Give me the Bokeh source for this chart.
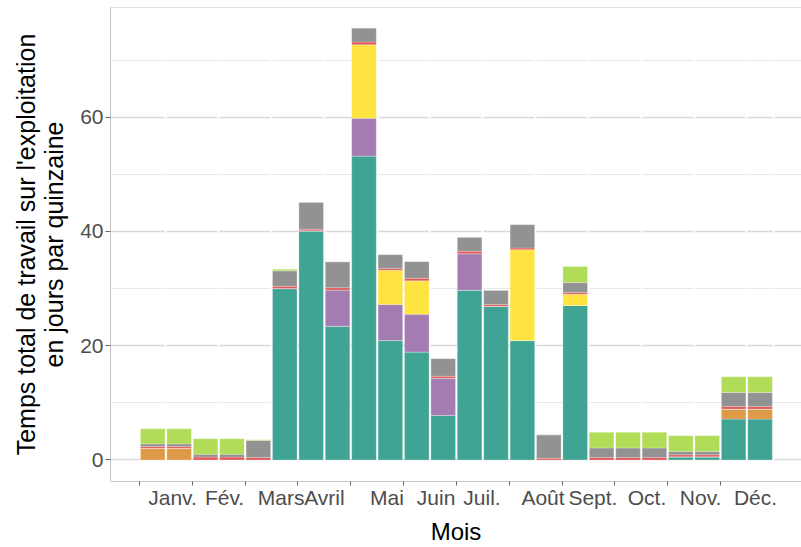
from bokeh.plotting import figure
from bokeh.models import FixedTicker, Grid, Span, LinearAxis, Range1d, ColumnDataSource
from bokeh.embed import file_html
from bokeh.resources import INLINE
import numpy as np

# ---- data -------------------------------------------------------------
mois = ["Janv.", "Fév.", "Mars", "Avril", "Mai", "Juin",
        "Juil.", "Août", "Sept.", "Oct.", "Nov.", "Déc."]
quinzaines = [f"{m} Q{q}" for m in mois for q in (1, 2)]

series = ["serie_1", "serie_2", "serie_3", "serie_4", "serie_5", "serie_6", "serie_7"]

serie_1 = [0, 0, 0, 0, 0, 30.0, 40.1, 23.4, 53.2, 20.9, 18.9, 7.8,
           29.7, 26.9, 20.9, 0, 27.05, 0, 0, 0, 0.55, 0.55, 7.15, 7.15]
serie_2 = [2.05, 2.05, 0, 0, 0, 0, 0, 0, 0, 0, 0, 0,
           0, 0, 0, 0, 0, 0, 0, 0, 0, 0, 1.75, 1.75]
serie_3 = [0, 0, 0, 0, 0, 0, 0, 6.35, 6.6, 6.3, 6.6, 6.5,
           6.4, 0, 0, 0, 0, 0, 0, 0, 0, 0, 0, 0]
serie_4 = [0, 0, 0, 0, 0, 0, 0, 0, 12.9, 6.0, 5.85, 0,
           0, 0, 15.9, 0, 1.95, 0, 0, 0, 0, 0, 0, 0]
serie_5 = [0.3, 0.3, 0.5, 0.5, 0.45, 0.4, 0.3, 0.4, 0.45, 0.3, 0.45, 0.35,
           0.45, 0.3, 0.3, 0.3, 0.3, 0.45, 0.45, 0.45, 0.35, 0.35, 0.45, 0.45]
serie_6 = [0.45, 0.45, 0.5, 0.5, 2.95, 2.7, 4.7, 4.55, 2.45, 2.45, 2.95, 3.1,
           2.45, 2.5, 4.1, 4.1, 1.75, 1.65, 1.65, 1.65, 0.6, 0.6, 2.45, 2.45]
serie_7 = [2.65, 2.65, 2.7, 2.7, 0.15, 0.3, 0, 0, 0, 0, 0, 0,
           0, 0, 0, 0, 2.8, 2.75, 2.75, 2.75, 2.75, 2.75, 2.75, 2.75]

y_ticks = [0, 20, 40, 60]
y_minor = [10, 30, 50, 70]

# ---- styles ------------------------------------------------------------
colors = ["#40A494", "#DE9A46", "#A37CB2", "#FFE340", "#E25757", "#929292", "#B0DC58"]
FONT = "Liberation Sans"
BORDER = "#C4C4C4"

n = len(quinzaines)
x = np.arange(n) + 0.5                   # centre of each fortnight
month_bounds = list(np.arange(0, n, 2))  # start of each month (tick marks)
month_mid = list(np.arange(1, n, 2)) + [n]
label_pos = [1.25, 3.22, 5.36, 7.0, 9.37, 11.23, 12.97, 15.28, 17.17, 19.22, 21.25, 23.33]

source = ColumnDataSource(dict(x=x, quinzaine=quinzaines, serie_1=serie_1, serie_2=serie_2,
                               serie_3=serie_3, serie_4=serie_4, serie_5=serie_5,
                               serie_6=serie_6, serie_7=serie_7))

Y_END = 79.2
p = figure(width=801, height=547, output_backend="svg", toolbar_location=None,
           x_range=Range1d(-1.10, 25.07), y_range=Range1d(-3.77, Y_END),
           x_axis_location=None, y_axis_location="left",
           min_border_left=110, min_border_right=0, min_border_top=7, min_border_bottom=0)
p.background_fill_color = "white"
p.border_fill_color = "white"
p.outline_line_color = None

# grids
p.xgrid.grid_line_color = None
p.ygrid.ticker = FixedTicker(ticks=y_ticks, minor_ticks=y_minor)
p.ygrid.grid_line_color = "#D9D9D9"
p.ygrid.grid_line_width = 1.6
p.ygrid.minor_grid_line_color = "#E8E8E8"
p.ygrid.minor_grid_line_width = 1
vgrid = Grid(dimension=0, ticker=FixedTicker(ticks=month_mid),
             grid_line_color="white", grid_line_width=2)
p.add_layout(vgrid, "center")
p.add_layout(Span(location=Y_END, dimension="width", line_color=BORDER, line_width=1.2))

# bars
p.vbar_stack(series, x="x", width=0.93, color=colors, source=source,
             line_color="white", line_width=0.4, line_alpha=0.6)

# y axis
ya = p.yaxis[0]
ya.ticker = FixedTicker(ticks=y_ticks)
ya.major_tick_out = 5
ya.major_tick_in = 0
ya.minor_tick_out = 0
ya.minor_tick_in = 0
ya.major_tick_line_color = "#666666"
ya.axis_line_color = BORDER
ya.major_label_standoff = 2
ya.major_label_text_font = FONT
ya.major_label_text_font_size = "21px"
ya.major_label_text_color = "#4D4D4D"
ya.axis_label = "Temps total de travail sur l'exploitation\nen jours par quinzaine"
ya.axis_label_text_font = FONT
ya.axis_label_text_font_size = "25px"
ya.axis_label_text_font_style = "normal"
ya.axis_label_text_color = "black"
ya.axis_label_text_line_height = 1.0
ya.axis_label_standoff = 9

# x axis
xa = LinearAxis(ticker=FixedTicker(ticks=label_pos, minor_ticks=month_bounds),
                major_label_overrides={float(v): m for v, m in zip(label_pos, mois)})
xa.major_tick_out = 0
xa.major_tick_in = 0
xa.minor_tick_out = 4
xa.minor_tick_in = 0
xa.minor_tick_line_color = "#666666"
xa.axis_line_color = BORDER
xa.major_label_standoff = 0
xa.major_label_text_font = FONT
xa.major_label_text_font_size = "21px"
xa.major_label_text_color = "#4D4D4D"
xa.axis_label = "Mois"
xa.axis_label_text_font = FONT
xa.axis_label_text_font_size = "24px"
xa.axis_label_text_font_style = "normal"
xa.axis_label_text_color = "black"
xa.axis_label_standoff = 6
p.add_layout(xa, "below")

open("out.html", "w").write(file_html(p, INLINE))
